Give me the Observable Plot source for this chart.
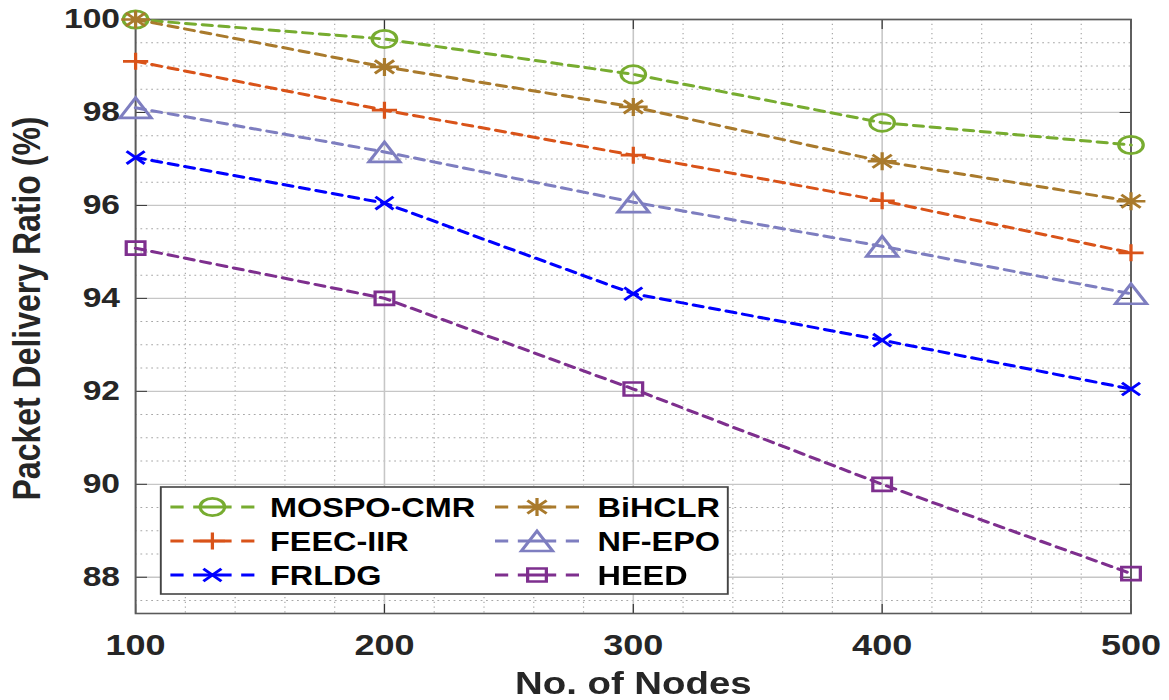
<!DOCTYPE html>
<html>
<head>
<meta charset="utf-8">
<script src="https://cdn.jsdelivr.net/npm/d3@7"></script>
<script src="https://cdn.jsdelivr.net/npm/@observablehq/plot@0.6"></script>
<style>
  html, body { margin: 0; padding: 0; background: #fff; }
  #wrap { width: 974px; height: 700px; transform: scaleX(1.2); transform-origin: 0 0; }
</style>
</head>
<body>
<div id="wrap"></div>
<script>
// ---------- data ----------
const nodes = [100, 200, 300, 400, 500];
const seriesNames = ["MOSPO-CMR", "BiHCLR", "FEEC-IIR", "NF-EPO", "FRLDG", "HEED"];
const mospoCmr = [100, 99.58, 98.82, 97.78, 97.3];
const bihclr   = [100, 98.98, 98.12, 96.95, 96.09];
const feecIir  = [99.1, 98.05, 97.08, 96.1, 94.98];
const nfEpo    = [98.1, 97.15, 96.07, 95.12, 94.1];
const frldg    = [97.03, 96.05, 94.1, 93.1, 92.05];
const heed     = [95.08, 94.0, 92.05, 90.0, 88.08];
const xTicks = [100, 200, 300, 400, 500];
const yTicks = [88, 90, 92, 94, 96, 98, 100];
const xTitle = "No. of Nodes";
const yTitle = "Packet Delivery Ratio (%)";

const seriesValues = [mospoCmr, bihclr, feecIir, nfEpo, frldg, heed];
const colors = ["#77AC30", "#A97A2C", "#D95319", "#7E7EC0", "#0000FF", "#7E2F8E"];

// ---------- custom marker symbols ----------
const K = s => Math.sqrt(s / Math.PI) / 10;
function ellipse(ctx, rx, ry) {
  const c = 0.5523;
  ctx.moveTo(rx, 0);
  ctx.bezierCurveTo(rx, c * ry, c * rx, ry, 0, ry);
  ctx.bezierCurveTo(-c * rx, ry, -rx, c * ry, -rx, 0);
  ctx.bezierCurveTo(-rx, -c * ry, -c * rx, -ry, 0, -ry);
  ctx.bezierCurveTo(c * rx, -ry, rx, -c * ry, rx, 0);
  ctx.closePath();
}
const symCircle = { draw(ctx, s) { const k = K(s); ellipse(ctx, 10.2 * k, 8.7 * k); } };
const symPlus = { draw(ctx, s) { const k = K(s);
  ctx.moveTo(-10.5 * k, 0); ctx.lineTo(10.5 * k, 0);
  ctx.moveTo(0, -8.5 * k); ctx.lineTo(0, 8.5 * k); } };
const symTimes = { draw(ctx, s) { const k = K(s);
  ctx.moveTo(-7.5 * k, -6.3 * k); ctx.lineTo(7.5 * k, 6.3 * k);
  ctx.moveTo(-7.5 * k, 6.3 * k); ctx.lineTo(7.5 * k, -6.3 * k); } };
const symAsterisk = { draw(ctx, s) { const k = K(s);
  ctx.moveTo(-12 * k, 0); ctx.lineTo(12 * k, 0);
  ctx.moveTo(0, -9 * k); ctx.lineTo(0, 9 * k);
  ctx.moveTo(-8 * k, -6.5 * k); ctx.lineTo(8 * k, 6.5 * k);
  ctx.moveTo(-8 * k, 6.5 * k); ctx.lineTo(8 * k, -6.5 * k); } };
const symTriangle = { draw(ctx, s) { const k = K(s);
  ctx.moveTo(0, -10 * k); ctx.lineTo(13 * k, 10 * k); ctx.lineTo(-13 * k, 10 * k); ctx.closePath(); } };
const symSquare = { draw(ctx, s) { const k = K(s);
  ctx.moveTo(-7.8 * k, -6.5 * k); ctx.lineTo(7.8 * k, -6.5 * k); ctx.lineTo(7.8 * k, 6.5 * k);
  ctx.lineTo(-7.8 * k, 6.5 * k); ctx.closePath(); } };
const symbols = [symCircle, symAsterisk, symPlus, symTriangle, symTimes, symSquare];

// ---------- tidy table ----------
const rows = [];
seriesNames.forEach((name, i) => {
  nodes.forEach((n, j) => rows.push({ series: name, idx: i, nodes: n, pdr: seriesValues[i][j] }));
});

const minorX = d3.range(100, 501, 20).filter(v => v % 100 !== 0);
const minorY = d3.range(87.5, 100, 0.5).filter(v => Math.abs(v % 2) > 1e-9);

const yDomain = [87.22, 100];
const font = "'Liberation Sans', Arial, Helvetica, sans-serif";
const dash = "8,6";

const lineMarks = [];
seriesNames.forEach((name, i) => {
  const d = rows.filter(r => r.idx === i);
  lineMarks.push(Plot.line(d, { x: "nodes", y: "pdr", stroke: colors[i], strokeWidth: 3, strokeDasharray: dash }));
});
seriesNames.forEach((name, i) => {
  const d = rows.filter(r => r.idx === i);
  lineMarks.push(Plot.dot(d, { x: "nodes", y: "pdr", symbol: symbols[i], r: 10, stroke: colors[i], strokeWidth: 2.7, fill: "none" }));
});

const svg = Plot.plot({
  width: 974,
  height: 700,
  marginLeft: 112.5,
  marginRight: 32,
  marginTop: 19,
  marginBottom: 87,
  style: { fontFamily: font, background: "#fff", overflow: "visible" },
  x: { domain: [100, 500] },
  y: { domain: yDomain },
  marks: [
    Plot.gridX(minorX, { stroke: "#a8a8a8", strokeOpacity: 1, strokeWidth: 1, strokeDasharray: "1.2,3.5" }),
    Plot.gridY(minorY, { stroke: "#a8a8a8", strokeOpacity: 1, strokeWidth: 1, strokeDasharray: "1.5,3" }),
    Plot.gridX(xTicks, { stroke: "#c6c6c6", strokeOpacity: 1, strokeWidth: 1.3 }),
    Plot.gridY(yTicks, { stroke: "#c6c6c6", strokeOpacity: 1, strokeWidth: 1.3 }),
    Plot.axisX(xTicks, { anchor: "bottom", tickSize: 0, tickPadding: 20, fontSize: 30, fontWeight: "bold", fill: "#262626", label: null }),
    Plot.axisY(yTicks, { anchor: "left", tickSize: 0, tickPadding: 13, fontSize: 28, fontWeight: "bold", fill: "#262626", label: null }),
    Plot.axisX(xTicks, { anchor: "bottom", tickSize: -9, tickFormat: () => "", stroke: "#333", label: null }),
    Plot.axisX(xTicks, { anchor: "top", tickSize: -9, tickFormat: () => "", stroke: "#333", label: null }),
    Plot.axisY(yTicks, { anchor: "left", tickSize: -10, tickFormat: () => "", stroke: "#333", label: null }),
    Plot.axisY(yTicks, { anchor: "right", tickSize: -10, tickFormat: () => "", stroke: "#333", label: null }),
    Plot.frame({ stroke: "#5a5a5a", strokeWidth: 1.6 }),
    ...lineMarks,
    Plot.text([xTitle], { text: d => d, frameAnchor: "bottom", dy: 70, textAnchor: "middle", lineAnchor: "middle", fontSize: 32, fontWeight: "bold", fill: "#262626" }),
    Plot.text([yTitle], { text: d => d, frameAnchor: "left", rotate: -90, dx: -90, dy: -8, textAnchor: "middle", lineAnchor: "middle", fontSize: 32, fontWeight: "bold", fill: "#262626" })
  ]
});

// ---------- legend (inside the axes, like the original) ----------
const g = d3.select(svg).append("g").attr("class", "legend").attr("text-anchor", "start");
const lx = 134, ly = 487, lw = 472.5, lh = 107;
g.append("rect").attr("x", lx).attr("y", ly).attr("width", lw).attr("height", lh)
  .attr("fill", "#fff").attr("stroke", "#444").attr("stroke-width", 1.6);
const rowY = [507, 541, 575];
const colMarker = [177, 447.5];
const colText = [225, 498];
seriesNames.forEach((name, i) => {
  const col = i % 2, row = Math.floor(i / 2);
  const cx = colMarker[col], y = rowY[row];
  const item = g.append("g");
  item.append("line").attr("x1", cx - 35).attr("x2", cx + 35).attr("y1", y).attr("y2", y)
    .attr("stroke", colors[i]).attr("stroke-width", 3).attr("stroke-dasharray", "11,8,32,8,11");
  item.append("path").attr("d", d3.symbol(symbols[i], Math.PI * 100)())
    .attr("transform", `translate(${cx},${y})`).attr("fill", "none")
    .attr("stroke", colors[i]).attr("stroke-width", 2.7);
  item.append("text").attr("x", colText[col]).attr("y", y).attr("dy", "0.36em")
    .attr("text-anchor", "start")
    .attr("font-family", font).attr("font-size", 27).attr("font-weight", "bold").attr("fill", "#000")
    .text(name);
});

document.getElementById("wrap").appendChild(svg);
</script>
</body>
</html>
